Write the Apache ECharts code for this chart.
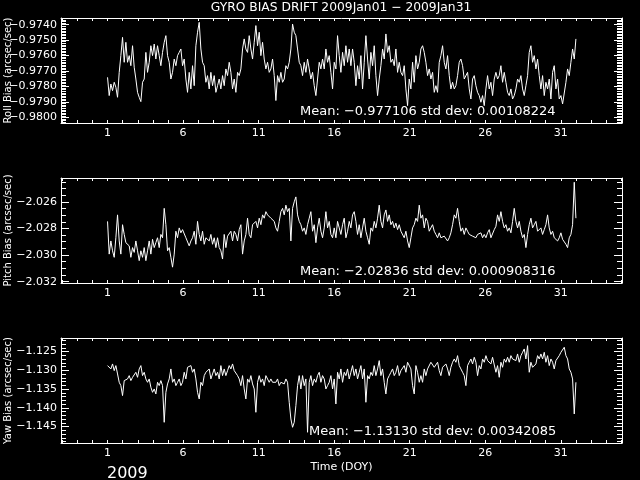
<!DOCTYPE html>
<html>
<head>
<meta charset="utf-8">
<script src="https://cdn.jsdelivr.net/npm/echarts@6/dist/echarts.min.js"></script>
<style>html,body{margin:0;padding:0;background:#000;}#c{width:640px;height:480px;}</style>
</head>
<body>
<div id="c"></div>
<script>
// ---- data (DOY from 1 to 32, evenly sampled) ----
const dayStart = 1, dayEnd = 32;
const rollBias = [
-0.97740,-0.97858,-0.97783,-0.97826,-0.97772,-0.97804,-0.97869,-0.97708,-0.97600,-0.97482,
-0.97643,-0.97514,-0.97643,-0.97600,-0.97665,-0.97536,-0.97675,-0.97751,-0.97837,-0.97869,
-0.97897,-0.97772,-0.97751,-0.97579,-0.97708,-0.97643,-0.97536,-0.97600,-0.97525,-0.97622,
-0.97536,-0.97600,-0.97665,-0.97579,-0.97514,-0.97471,-0.97600,-0.97643,-0.97751,-0.97708,
-0.97622,-0.97665,-0.97600,-0.97579,-0.97557,-0.97665,-0.97622,-0.97751,-0.97837,-0.97708,
-0.97815,-0.97665,-0.97794,-0.97536,-0.97449,-0.97385,-0.97557,-0.97643,-0.97665,-0.97772,
-0.97729,-0.97815,-0.97708,-0.97794,-0.97729,-0.97837,-0.97794,-0.97751,-0.97815,-0.97729,
-0.97794,-0.97686,-0.97729,-0.97643,-0.97708,-0.97815,-0.97751,-0.97837,-0.97708,-0.97729,
-0.97686,-0.97557,-0.97492,-0.97557,-0.97579,-0.97471,-0.97557,-0.97622,-0.97514,-0.97406,
-0.97536,-0.97449,-0.97600,-0.97514,-0.97622,-0.97686,-0.97643,-0.97708,-0.97686,-0.97622,
-0.97729,-0.97890,-0.97729,-0.97772,-0.97708,-0.97772,-0.97751,-0.97665,-0.97686,-0.97643,
-0.97557,-0.97396,-0.97449,-0.97471,-0.97557,-0.97643,-0.97665,-0.97729,-0.97643,-0.97708,
-0.97622,-0.97686,-0.97751,-0.97708,-0.97794,-0.97858,-0.97751,-0.97643,-0.97686,-0.97622,
-0.97686,-0.97557,-0.97643,-0.97600,-0.97708,-0.97815,-0.97643,
-0.97686,-0.97471,-0.97600,-0.97708,-0.97579,-0.97665,-0.97536,-0.97643,-0.97557,-0.97665,
-0.97557,-0.97643,-0.97794,-0.97665,-0.97751,-0.97600,-0.97815,-0.97643,-0.97471,-0.97622,
-0.97751,-0.97579,-0.97665,-0.97536,-0.97729,-0.97858,-0.97751,-0.97665,-0.97557,-0.97622,
-0.97460,-0.97579,-0.97536,-0.97643,-0.97622,-0.97665,-0.97557,-0.97708,-0.97643,-0.97708,
-0.97729,-0.97665,-0.97815,-0.97923,-0.97751,-0.97815,-0.97643,-0.97772,-0.97600,-0.97686,
-0.97643,-0.97557,-0.97536,-0.97579,-0.97643,-0.97729,-0.97686,-0.97751,-0.97708,-0.97837,
-0.97794,-0.97837,-0.97643,-0.97600,-0.97536,-0.97643,-0.97686,-0.97600,-0.97729,-0.97815,
-0.97772,-0.97815,-0.97794,-0.97729,-0.97643,-0.97622,-0.97665,-0.97751,-0.97751,-0.97708,
-0.97815,-0.97880,-0.97751,-0.97729,-0.97794,-0.97837,-0.97858,-0.97901,-0.97858,-0.97923,
-0.97815,-0.97729,-0.97815,-0.97772,-0.97858,-0.97751,-0.97708,-0.97751,-0.97729,-0.97665,
-0.97772,-0.97708,-0.97772,-0.97837,-0.97858,-0.97815,-0.97880,-0.97858,-0.97815,-0.97751,
-0.97772,-0.97729,-0.97815,-0.97858,-0.97794,-0.97729,-0.97579,-0.97536,-0.97643,-0.97600,
-0.97686,-0.97622,-0.97729,-0.97815,-0.97729,-0.97858,-0.97772,-0.97815,-0.97751,-0.97880,
-0.97708,-0.97665,-0.97815,-0.97751,-0.97880,-0.97858,-0.97912,-0.97901,-0.97772,-0.97686,
-0.97729,-0.97643,-0.97557,-0.97622,-0.97492
];
const pitchBias = [
-2.02747,-2.02993,-2.02894,-2.02968,-2.03017,-2.02870,-2.02698,-2.02894,-2.02993,-2.02772,
-2.02845,-2.02907,-2.02894,-2.02931,-2.03017,-2.02944,-2.02980,-2.02894,-2.02968,-2.03042,
-2.02968,-2.03017,-2.02944,-2.03042,-2.02968,-2.02894,-2.02993,-2.02882,-2.02944,-2.02907,
-2.02870,-2.02944,-2.02845,-2.02870,-2.02649,-2.02772,-2.02968,-2.02944,-2.03017,-2.03091,
-2.02993,-2.02821,-2.02870,-2.02796,-2.02833,-2.02809,-2.02821,-2.02870,-2.02858,-2.02931,
-2.02894,-2.02870,-2.02821,-2.02919,-2.02747,-2.02845,-2.02894,-2.02821,-2.02919,-2.02870,
-2.02882,-2.02894,-2.02845,-2.02919,-2.02870,-2.02944,-2.02870,-2.02944,-2.02968,-2.03030,
-2.02845,-2.02944,-2.02858,-2.02845,-2.02821,-2.02894,-2.02821,-2.02845,-2.02894,-2.02809,
-2.02772,-2.02993,-2.02894,-2.02845,-2.02723,-2.02845,-2.02870,-2.02772,-2.02772,-2.02747,
-2.02796,-2.02723,-2.02772,-2.02698,-2.02723,-2.02674,-2.02698,-2.02686,-2.02723,-2.02710,
-2.02747,-2.02796,-2.02821,-2.02747,-2.02674,-2.02649,-2.02698,-2.02625,-2.02674,-2.02649,
-2.02894,-2.02649,-2.02600,-2.02563,-2.02698,-2.02747,-2.02772,-2.02821,-2.02796,-2.02845,
-2.02772,-2.02723,-2.02674,-2.02821,-2.02772,-2.02907,-2.02796,-2.02723,-2.02821,-2.02870,
-2.02796,-2.02674,-2.02796,-2.02747,-2.02845,-2.02870,-2.02796,
-2.02870,-2.02747,-2.02796,-2.02845,-2.02772,-2.02723,-2.02870,-2.02821,-2.02747,-2.02796,
-2.02698,-2.02674,-2.02747,-2.02845,-2.02772,-2.02870,-2.02796,-2.02723,-2.02821,-2.02870,
-2.02919,-2.02796,-2.02821,-2.02747,-2.02796,-2.02723,-2.02625,-2.02747,-2.02796,-2.02698,
-2.02661,-2.02747,-2.02698,-2.02772,-2.02747,-2.02796,-2.02760,-2.02809,-2.02772,-2.02821,
-2.02833,-2.02870,-2.02821,-2.02894,-2.02944,-2.02870,-2.02796,-2.02772,-2.02723,-2.02747,
-2.02625,-2.02723,-2.02698,-2.02796,-2.02723,-2.02747,-2.02821,-2.02796,-2.02772,-2.02821,
-2.02845,-2.02870,-2.02833,-2.02870,-2.02882,-2.02858,-2.02870,-2.02894,-2.02870,-2.02833,
-2.02772,-2.02698,-2.02723,-2.02649,-2.02747,-2.02821,-2.02796,-2.02845,-2.02796,-2.02821,
-2.02845,-2.02833,-2.02858,-2.02845,-2.02870,-2.02845,-2.02858,-2.02833,-2.02870,-2.02845,
-2.02870,-2.02833,-2.02809,-2.02870,-2.02858,-2.02809,-2.02784,-2.02698,-2.02747,-2.02674,
-2.02747,-2.02796,-2.02772,-2.02821,-2.02796,-2.02833,-2.02747,-2.02649,-2.02747,-2.02796,
-2.02747,-2.02821,-2.02870,-2.02845,-2.02944,-2.02845,-2.02772,-2.02723,-2.02796,-2.02772,
-2.02747,-2.02821,-2.02809,-2.02796,-2.02845,-2.02809,-2.02772,-2.02698,-2.02796,-2.02845,
-2.02821,-2.02870,-2.02858,-2.02894,-2.02870,-2.02833,-2.02882,-2.02894,-2.02919,-2.02944,
-2.02870,-2.02845,-2.02772,-2.02453,-2.02723
];
const yawBias = [
-1.12873,-1.12829,-1.12962,-1.12829,-1.13007,-1.12873,-1.13096,-1.13318,-1.13407,-1.13673,
-1.13273,-1.13318,-1.13229,-1.13140,-1.13273,-1.13185,-1.13229,-1.13051,-1.13185,-1.12962,
-1.12873,-1.13140,-1.13051,-1.13229,-1.13318,-1.13229,-1.13451,-1.13585,-1.13496,-1.13629,
-1.13318,-1.13407,-1.13273,-1.13407,-1.14385,-1.13585,-1.13362,-1.13229,-1.12962,-1.13318,
-1.13229,-1.13407,-1.13318,-1.13229,-1.13407,-1.13318,-1.13051,-1.13229,-1.12918,-1.12962,
-1.12873,-1.13051,-1.12962,-1.13229,-1.13585,-1.13762,-1.13318,-1.13407,-1.13140,-1.13051,
-1.13096,-1.12962,-1.13229,-1.13096,-1.12962,-1.13140,-1.13051,-1.13229,-1.12873,-1.13140,
-1.12962,-1.13140,-1.13007,-1.12873,-1.12962,-1.12829,-1.13007,-1.13051,-1.13140,-1.13229,
-1.13407,-1.13140,-1.13496,-1.13762,-1.13229,-1.13318,-1.13140,-1.13362,-1.13496,-1.14118,
-1.13318,-1.13140,-1.13318,-1.13229,-1.13407,-1.13140,-1.13185,-1.13318,-1.13229,-1.13318,
-1.13362,-1.13318,-1.13229,-1.13407,-1.13318,-1.13273,-1.13362,-1.13229,-1.13318,-1.13851,
-1.14296,-1.14518,-1.14385,-1.13940,-1.13407,-1.13140,-1.13496,-1.13140,-1.13407,-1.13229,
-1.14651,-1.13318,-1.13140,-1.13407,-1.13229,-1.13318,-1.13140,-1.13051,-1.13318,-1.13140,
-1.13229,-1.13496,-1.13407,-1.13318,-1.13140,-1.13496,-1.13229,
-1.13896,-1.13051,-1.13229,-1.12962,-1.13318,-1.13051,-1.13140,-1.12962,-1.13229,-1.13051,
-1.12873,-1.13140,-1.12962,-1.13229,-1.13051,-1.12873,-1.13229,-1.12962,-1.13851,-1.13140,
-1.13229,-1.13051,-1.13140,-1.12873,-1.13140,-1.12962,-1.12740,-1.13140,-1.12962,-1.13318,
-1.13629,-1.13229,-1.13140,-1.13051,-1.12962,-1.13140,-1.13051,-1.12873,-1.13140,-1.13007,
-1.12962,-1.12873,-1.13051,-1.12784,-1.12829,-1.12962,-1.13407,-1.13629,-1.12873,-1.13051,
-1.13318,-1.13140,-1.13318,-1.12962,-1.13140,-1.12962,-1.13007,-1.12784,-1.12740,-1.12918,
-1.12873,-1.12784,-1.13007,-1.13140,-1.12918,-1.12873,-1.12829,-1.12962,-1.13140,-1.12918,
-1.12784,-1.12696,-1.12784,-1.12607,-1.12873,-1.12962,-1.13051,-1.13140,-1.13407,-1.12873,
-1.12784,-1.12696,-1.12829,-1.12651,-1.12784,-1.13140,-1.12873,-1.12962,-1.12696,-1.12784,
-1.12607,-1.12740,-1.12696,-1.12829,-1.12651,-1.12696,-1.13051,-1.12873,-1.13185,-1.12784,
-1.12918,-1.12696,-1.12784,-1.12651,-1.12784,-1.12607,-1.12696,-1.12651,-1.12740,-1.12562,
-1.12784,-1.12607,-1.12518,-1.12429,-1.12696,-1.12340,-1.13051,-1.12784,-1.12918,-1.12873,
-1.12829,-1.12607,-1.12696,-1.12562,-1.12696,-1.12518,-1.12784,-1.12607,-1.12873,-1.12696,
-1.12784,-1.12962,-1.12740,-1.12696,-1.12607,-1.12518,-1.12473,-1.12384,-1.12607,-1.12696,
-1.12962,-1.13051,-1.13229,-1.14162,-1.13318
];
const xTickLabels = [1, 6, 11, 16, 21, 26, 31];
const panelNames = ['Roll Bias (arcsec/sec)', 'Pitch Bias (arcsec/sec)', 'Yaw Bias (arcsec/sec)'];
const meanTexts = [
  'Mean: \u22120.977106 std dev: 0.00108224',
  'Mean: \u22122.02836 std dev: 0.000908316',
  'Mean: \u22121.13130 std dev: 0.00342085'
];
const titleText = 'GYRO BIAS DRIFT 2009Jan01 \u2212 2009Jan31';
const yearText = '2009';
const xLabelText = 'Time (DOY)';

// axis settings (ranges and tick steps)
const xRange = [-2.08, 35.05];
const yRanges = [[-0.98035, -0.97357], [-2.03210, -2.02421], [-1.14937, -1.12137]];
const yMajor = [[-0.9800, -0.9740, 0.001], [-2.032, -2.026, 0.002], [-1.145, -1.125, 0.005]];
const yMinorStep = [0.0001, 0.0005, 0.001];
const yDecimals = [4, 3, 3];

// ---- build ----
function seq(a, b, s) {
  const out = []; const n = Math.round((b - a) / s);
  for (let i = 0; i <= n; i++) out.push(+(a + i * s).toFixed(6));
  return out;
}
function minorSeq(range, s) {
  const a = Math.ceil(range[0] / s - 1e-6) * s, b = Math.floor(range[1] / s + 1e-6) * s;
  return seq(a, b, s);
}
function toXY(arr) {
  const n = arr.length;
  return arr.map((v, i) => [dayStart + i * (dayEnd - dayStart) / (n - 1), v]);
}
const series = [rollBias, pitchBias, yawBias];
const font = 'DejaVu Sans';
const tops = [18, 178, 338];
const gridH = 105, gridL = 61, gridW = 561;
const dayTicks = seq(-2, 35, 1);

const grids = [], xAxes = [], yAxes = [], ser = [], graphics = [];
for (let p = 0; p < 3; p++) {
  grids.push({left: gridL, top: tops[p], width: gridW, height: gridH, show: false,
    containLabel: false, outerBoundsMode: 'none'});
  const line = {show: true, onZero: false, lineStyle: {color: '#fff', width: 1}};
  const noLine = {show: false, onZero: false};
  xAxes.push({
    type: 'value', gridIndex: p, position: 'bottom', min: xRange[0], max: xRange[1],
    axisLine: line, splitLine: {show: false},
    axisTick: {show: true, inside: true, length: 3, customValues: dayTicks, lineStyle: {color: '#fff'}},
    axisLabel: {show: true, customValues: xTickLabels, color: '#fff', fontFamily: font, fontSize: 11, margin: 5,
      formatter: v => String(Math.round(v))},
    name: p === 2 ? xLabelText : '', nameLocation: 'middle', nameGap: 19,
    nameTextStyle: {color: '#fff', fontFamily: font, fontSize: 11}
  });
  xAxes.push({
    type: 'value', gridIndex: p, position: 'top', min: xRange[0], max: xRange[1],
    axisLine: line, splitLine: {show: false},
    axisTick: {show: true, inside: true, length: 3, customValues: dayTicks, lineStyle: {color: '#fff'}},
    axisLabel: {show: false}
  });
  const majors = seq(yMajor[p][0], yMajor[p][1], yMajor[p][2]);
  const minors = minorSeq(yRanges[p], yMinorStep[p]);
  const dec = yDecimals[p];
  const base = {type: 'value', gridIndex: p, min: yRanges[p][0], max: yRanges[p][1], scale: true, splitLine: {show: false}};
  yAxes.push(Object.assign({}, base, {
    position: 'left', axisLine: line,
    axisTick: {show: true, inside: true, length: 8, customValues: majors, lineStyle: {color: '#fff'}},
    axisLabel: {show: true, customValues: majors, color: '#fff', fontFamily: font, fontSize: 11, margin: 4,
      formatter: v => (v < 0 ? '\u2212' : '') + Math.abs(v).toFixed(dec)}
  }));
  yAxes.push(Object.assign({}, base, {
    position: 'left', offset: 0, axisLine: noLine,
    axisTick: {show: true, inside: true, length: 5, customValues: minors, lineStyle: {color: '#fff'}},
    axisLabel: {show: false}
  }));
  yAxes.push(Object.assign({}, base, {
    position: 'right', offset: 0, axisLine: line,
    axisTick: {show: true, inside: true, length: 8, customValues: majors, lineStyle: {color: '#fff'}},
    axisLabel: {show: false}
  }));
  yAxes.push(Object.assign({}, base, {
    position: 'right', offset: 0, axisLine: noLine,
    axisTick: {show: true, inside: true, length: 5, customValues: minors, lineStyle: {color: '#fff'}},
    axisLabel: {show: false}
  }));
  ser.push({
    type: 'line', xAxisIndex: 2 * p, yAxisIndex: 4 * p, data: toXY(series[p]),
    showSymbol: false, symbol: 'none', lineStyle: {color: '#fff', width: 1}, silent: true, clip: true
  });
  graphics.push({
    type: 'text', x: p === 2 ? 309 : 300, y: tops[p] + 94,
    style: {text: meanTexts[p], fill: '#fff', font: '13px "' + font + '"', textVerticalAlign: 'middle'}
  });
  graphics.push({
    type: 'text', x: 8, y: tops[p] + gridH / 2, rotation: Math.PI / 2,
    style: {text: panelNames[p], fill: '#fff', font: '10px "' + font + '"', textAlign: 'center', textVerticalAlign: 'middle'}
  });
}
graphics.push({type: 'text', x: 341, y: 8,
  style: {text: titleText, fill: '#fff', font: '12.3px "' + font + '"', textAlign: 'center', textVerticalAlign: 'middle'}});
graphics.push({type: 'text', x: 107, y: 474,
  style: {text: yearText, fill: '#fff', font: '16px "' + font + '"', textVerticalAlign: 'middle'}});

const chart = echarts.init(document.getElementById('c'), null, {renderer: 'canvas'});
chart.setOption({
  backgroundColor: '#000',
  animation: false,
  grid: grids, xAxis: xAxes, yAxis: yAxes, series: ser, graphic: graphics
});
</script>
</body>
</html>
